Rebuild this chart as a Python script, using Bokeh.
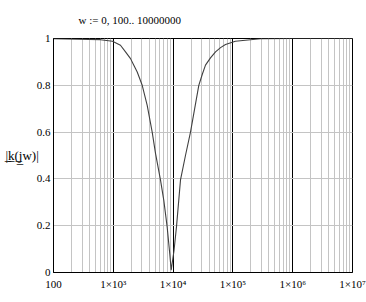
from bokeh.plotting import figure
from bokeh.models import FixedTicker, CustomJSTickFormatter
from bokeh.embed import file_html
from bokeh.resources import INLINE

# Values
w_vals = [100, 251, 611, 970, 1318, 1600, 1941, 2204, 2512, 3044, 3689, 4470,
          5080, 6150, 7000, 7945, 8800, 9290, 10350, 11400, 13300, 16100,
          19540, 26900, 30700, 34800, 42200, 51200, 62100, 75200, 110000,
          289000, 1000000, 10000000]
k_vals = [0.999, 0.997, 0.995, 0.988, 0.971, 0.943, 0.914, 0.886, 0.857, 0.80,
          0.714, 0.60, 0.509, 0.396, 0.307, 0.196, 0.079, 0.01, 0.093, 0.196,
          0.396, 0.50, 0.60, 0.80, 0.846, 0.886, 0.917, 0.943, 0.961, 0.974,
          0.988, 0.999, 1.0, 1.0]

x_ticks = [100, 1000, 10000, 100000, 1000000, 10000000]
x_tick_labels = ["100", "1×10³", "1×10⁴", "1×10⁵", "1×10⁶", "1×10⁷"]
y_ticks = [0, 0.2, 0.4, 0.6, 0.8, 1]
y_tick_labels = ["0", "0.2", "0.4", "0.6", "0.8", "1"]
minor_x = [m * d for d in [100, 1000, 10000, 100000, 1000000] for m in range(2, 10)]

title_text = "w := 0, 100.. 10000000"
ylabel_text = "|\u0332k\u0332(\u0332j\u0332w)|"

FONT = "Liberation Serif"

p = figure(width=366, height=302, x_axis_type="log", x_range=(100, 1e7),
           y_range=(0, 1), output_backend="svg", toolbar_location=None,
           min_border_left=53, min_border_right=14, min_border_top=38,
           min_border_bottom=30)
p.background_fill_color = "white"
p.border_fill_color = "white"
p.outline_line_color = "black"
p.outline_line_alpha = 1.0

p.title.text = title_text
p.title.align = "left"
p.title.offset = 25
p.title.standoff = 23
p.title.vertical_align = "middle"
p.title.text_font = FONT
p.title.text_font_size = "11px"
p.title.text_font_style = "normal"
p.title.text_color = "black"

p.xaxis.ticker = FixedTicker(ticks=x_ticks, minor_ticks=minor_x)
p.yaxis.ticker = FixedTicker(ticks=y_ticks)
p.xaxis.formatter = CustomJSTickFormatter(args=dict(tvals=x_ticks, tlabels=x_tick_labels), code="""
for (let i = 0; i < tvals.length; i++) { if (Math.abs(Math.log10(tick) - Math.log10(tvals[i])) < 1e-6) return tlabels[i]; }
return "";
""")
p.yaxis.formatter = CustomJSTickFormatter(args=dict(tvals=y_ticks, tlabels=y_tick_labels), code="""
for (let i = 0; i < tvals.length; i++) { if (Math.abs(tick - tvals[i]) < 1e-6) return tlabels[i]; }
return "";
""")

for ax in (p.xaxis, p.yaxis):
    ax.major_tick_out = 0
    ax.major_tick_in = 0
    ax.minor_tick_out = 0
    ax.minor_tick_in = 0
    ax.axis_line_color = "black"
    ax.major_label_text_font = FONT
    ax.major_label_text_font_size = "11px"
    ax.major_label_text_color = "black"
p.xaxis.major_label_standoff = 5
p.yaxis.major_label_standoff = 3

p.yaxis.axis_label = ylabel_text
p.yaxis.axis_label_text_font = FONT
p.yaxis.axis_label_text_font_size = "13px"
p.yaxis.axis_label_text_font_style = "normal"
p.yaxis.axis_label_text_color = "black"
p.yaxis.axis_label_standoff = -5
if hasattr(p.yaxis[0], "axis_label_orientation"):
    p.yaxis.axis_label_orientation = "horizontal"

p.xgrid.grid_line_color = "black"
p.xgrid.grid_line_alpha = 1.0
p.xgrid.minor_grid_line_color = "#c4c4c4"
p.ygrid.grid_line_color = "#c4c4c4"

p.line(w_vals, k_vals, line_color="#404040", line_width=1.1)

open("out.html", "w").write(file_html(p, INLINE))
